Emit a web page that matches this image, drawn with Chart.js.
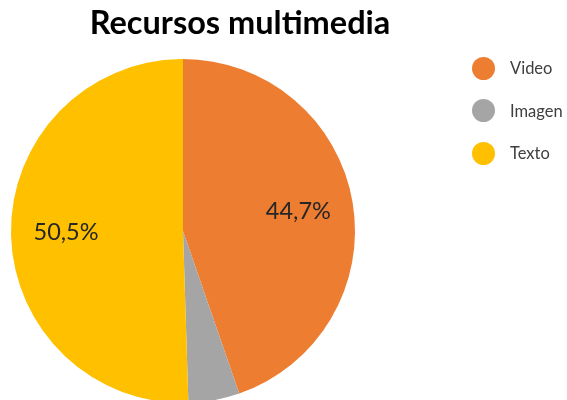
<!DOCTYPE html>
<html>
<head>
<meta charset="utf-8">
<script src="https://cdn.jsdelivr.net/npm/chart.js@4"></script>
<style>
  html, body { margin: 0; padding: 0; background: #fff; overflow: hidden; }
  #wrap { position: relative; width: 567px; height: 400px; overflow: hidden; }
  #pie { position: absolute; left: 0; top: 0; }
  #title {
    position: absolute; left: 0; width: 480px; top: 2px; text-align: center;
    font-family: Lato, sans-serif; font-weight: bold; font-size: 32.5px; color: #000;
  }
  #legend { position: absolute; left: 472px; top: 47px; font-family: Lato, sans-serif; }
  .item { display: flex; align-items: center; height: 42.5px; }
  .dot { width: 23px; height: 23px; border-radius: 50%; margin-right: 15px; }
  .lbl { font-size: 16.5px; color: #404040; }
</style>
</head>
<body>
<div id="wrap">
  <canvas id="pie" width="567" height="410"></canvas>
  <div id="title"></div>
  <div id="legend"></div>
</div>
<script>
// ── DATA ──────────────────────────────────
const chartTitle = 'Recursos multimedia';
const categories = ['Video', 'Imagen', 'Texto'];
const percentages = [44.7, 4.8, 50.5];
const sliceColors = ['#ED7D31', '#A5A5A5', '#FFC000'];
const showLabel = [true, false, true];

document.getElementById('title').textContent = chartTitle;

// legend built from the arrays
const legendEl = document.getElementById('legend');
categories.forEach((name, i) => {
  const row = document.createElement('div');
  row.className = 'item';
  row.innerHTML = '<div class="dot" style="background:' + sliceColors[i] + '"></div><span class="lbl"></span>';
  row.querySelector('.lbl').textContent = name;
  legendEl.appendChild(row);
});

// percentage labels inside the slices
const sliceLabels = {
  id: 'sliceLabels',
  afterDatasetsDraw(chart) {
    const ctx = chart.ctx;
    const meta = chart.getDatasetMeta(0);
    ctx.save();
    ctx.font = '23.5px Lato, sans-serif';
    ctx.fillStyle = '#262626';
    ctx.textAlign = 'center';
    ctx.textBaseline = 'middle';
    meta.data.forEach((arc, i) => {
      if (!showLabel[i]) return;
      const mid = (arc.startAngle + arc.endAngle) / 2;
      const r = arc.outerRadius * 0.68;
      const txt = percentages[i].toFixed(1).replace('.', ',') + '%';
      ctx.fillText(txt, arc.x + Math.cos(mid) * r, arc.y + Math.sin(mid) * r);
    });
    ctx.restore();
  }
};

new Chart(document.getElementById('pie'), {
  type: 'pie',
  data: {
    labels: categories,
    datasets: [{
      data: percentages,
      backgroundColor: sliceColors,
      borderWidth: 0,
    }]
  },
  options: {
    responsive: false,
    animation: false,
    layout: { padding: { left: 11, right: 212, top: 59, bottom: 7 } },
    plugins: {
      legend: { display: false },
      title: { display: false },
      tooltip: { enabled: false }
    }
  },
  plugins: [sliceLabels]
});
</script>
</body>
</html>
